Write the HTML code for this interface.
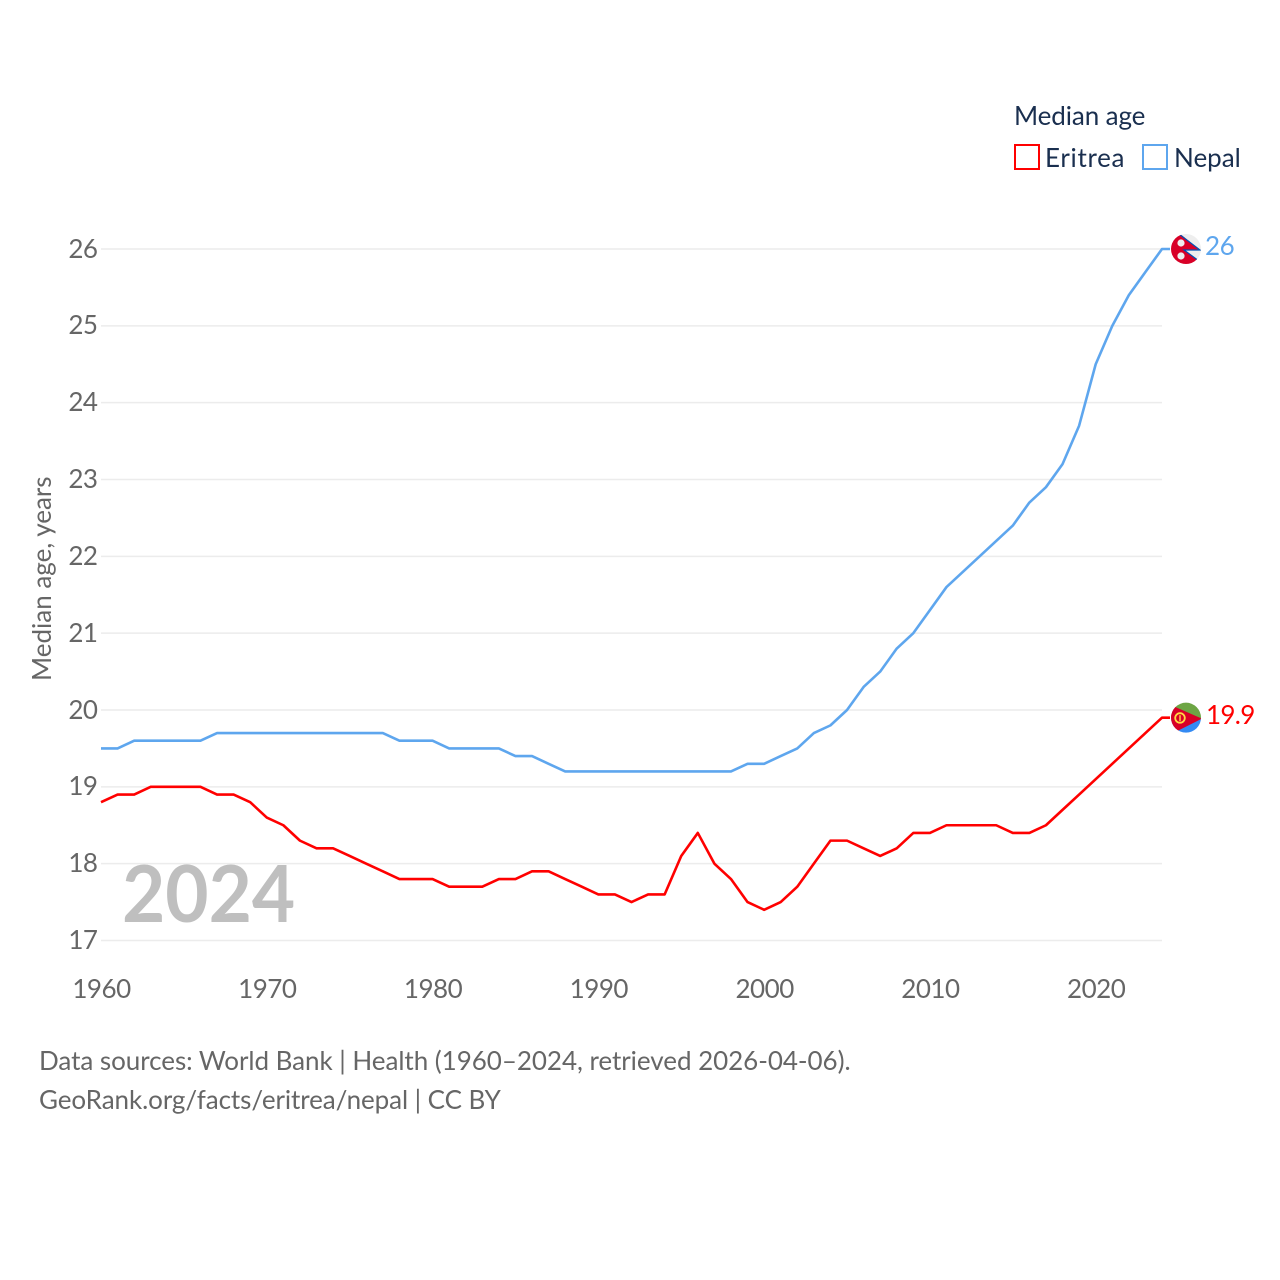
<!DOCTYPE html>
<html lang="en">
<head>
<meta charset="utf-8">
<title>Median age: Eritrea and Nepal</title>
<style>
html,body{margin:0;padding:0;background:#fff}
#root{position:relative;width:1280px;height:1280px;overflow:hidden;font-family:"Lato","Carlito","Liberation Sans",sans-serif}
svg{display:block;position:absolute;left:0;top:0}
.t{position:absolute;white-space:nowrap;font-size:26px;line-height:30px;height:30px;color:#666}
.num{letter-spacing:-0.5px}
.navy{color:#1a2f4f}
</style>
</head>
<body>
<div id="root">
<svg xmlns="http://www.w3.org/2000/svg" width="1280" height="1280" viewBox="0 0 1280 1280">
  <rect width="1280" height="1280" fill="#fff"/>
  <defs>
    <clipPath id="flag-clip-np"><circle cx="0" cy="0" r="15"/></clipPath>
    <clipPath id="flag-clip-er"><circle cx="0" cy="0" r="15"/></clipPath>
  </defs>
  <g id="grid"></g>
  <g id="lines"></g>
  <g>
    <rect x="1015" y="145" width="24" height="24" fill="#fff" stroke="#ff0000" stroke-width="2"/>
    <rect x="1143" y="145" width="24" height="24" fill="#fff" stroke="#5ea6ee" stroke-width="2"/>
  </g>
  <g id="flag-nepal">
    <g clip-path="url(#flag-clip-np)">
      <rect x="-16" y="-16" width="32" height="32" fill="#eeeeee"/>
      <path d="M-16,-16 L-7,-16 L14,1 L-2,1 L13,12 L13,16 L-16,16 Z" fill="#d80027"/>
      <path d="M-7,-15 L14,1 L-2,1 L13,12" fill="none" stroke="#0052b4" stroke-width="1.2"/>
      <circle cx="-5" cy="-6" r="3.6" fill="#eeeeee"/>
      <circle cx="-5" cy="7" r="3.6" fill="#eeeeee"/>
    </g>
  </g>
  <g id="flag-eritrea">
    <g clip-path="url(#flag-clip-er)">
      <rect x="-16" y="-16" width="32" height="17" fill="#6da544"/>
      <rect x="-16" y="1" width="32" height="16" fill="#338af3"/>
      <path d="M-16,-13 L16,1 L-16,17 Z" fill="#d80027"/>
      <circle cx="-6" cy="0.3" r="4.8" fill="none" stroke="#ffda44" stroke-width="1.8"/>
      <rect x="-6.7" y="-2.5" width="1.4" height="6" fill="#ffda44"/>
    </g>
  </g>
</svg>
<div class="t" style="left:-59px;top:564px;width:200px;text-align:center;transform:translateY(2px) rotate(-90deg)">Median age, years</div>
<div class="t" style="left:122px;top:852px;font-size:79px;line-height:79px;height:79px;font-weight:700;color:#bfbfbf;transform-origin:0 0;transform:scaleX(0.945)">2024</div>
<div class="t navy" style="left:1014px;top:100px;letter-spacing:-0.1px">Median age</div>
<div class="t navy" style="left:1045px;top:142px;letter-spacing:0.7px">Eritrea</div>
<div class="t navy" style="left:1174px;top:142px">Nepal</div>
<div class="t" id="end-nepal" style="left:1205px;color:#5ea6ee;letter-spacing:-0.4px"></div>
<div class="t" id="end-eritrea" style="left:1206px;color:#ff0000;letter-spacing:-0.7px"></div>
<div class="t" style="left:39px;top:1045px;letter-spacing:-0.044px">Data sources: World Bank | Health (1960–2024, retrieved 2026-04-06).</div>
<div class="t" style="left:39px;top:1084px;letter-spacing:-0.077px">GeoRank.org/facts/eritrea/nepal | CC BY</div>
</div>
<script>
const startYear = 1960;
const yTickValues = [17, 18, 19, 20, 21, 22, 23, 24, 25, 26];
const xTickValues = [1960, 1970, 1980, 1990, 2000, 2010, 2020];
const eritreaValues = [18.8,18.9,18.9,19,19,19,19,18.9,18.9,18.8,18.6,18.5,18.3,18.2,18.2,18.1,18,17.9,17.8,17.8,17.8,17.7,17.7,17.7,17.8,17.8,17.9,17.9,17.8,17.7,17.6,17.6,17.5,17.6,17.6,18.1,18.4,18,17.8,17.5,17.4,17.5,17.7,18,18.3,18.3,18.2,18.1,18.2,18.4,18.4,18.5,18.5,18.5,18.5,18.4,18.4,18.5,18.7,18.9,19.1,19.3,19.5,19.7,19.9];
const nepalValues = [19.5,19.5,19.6,19.6,19.6,19.6,19.6,19.7,19.7,19.7,19.7,19.7,19.7,19.7,19.7,19.7,19.7,19.7,19.6,19.6,19.6,19.5,19.5,19.5,19.5,19.4,19.4,19.3,19.2,19.2,19.2,19.2,19.2,19.2,19.2,19.2,19.2,19.2,19.2,19.3,19.3,19.4,19.5,19.7,19.8,20,20.3,20.5,20.8,21,21.3,21.6,21.8,22,22.2,22.4,22.7,22.9,23.2,23.7,24.5,25,25.4,25.7,26];

const NS = 'http://www.w3.org/2000/svg';
const xScale = function (year) { return 101 + (year - 1960) * (1162 - 101) / 64; };
const yScale = function (value) { return 940.5 - (value - 17) * (940.5 - 249) / 9; };
const root = document.getElementById('root');
const gridG = document.getElementById('grid');
const linesG = document.getElementById('lines');

yTickValues.forEach(function (v) {
  const line = document.createElementNS(NS, 'line');
  
  
  line.setAttribute('x1', 101);
  line.setAttribute('x2', 1162);
  line.setAttribute('y1', yScale(v));
  line.setAttribute('y2', yScale(v));
  line.setAttribute('stroke', '#ececec');
  line.setAttribute('stroke-width', '1.5');
  gridG.appendChild(line);
  const label = document.createElement('div');
  
  
  label.className = 't num';
  label.style.left = '47.5px';
  label.style.width = '50px';
  label.style.textAlign = 'right';
  label.style.top = (yScale(v) - 16.4) + 'px';
  label.textContent = String(v);
  root.appendChild(label);
});

xTickValues.forEach(function (y) {
  const label = document.createElement('div');
  
  
  label.className = 't num';
  label.style.left = (xScale(y) + 0.5 - 50) + 'px';
  label.style.width = '100px';
  label.style.textAlign = 'center';
  label.style.top = '973px';
  label.textContent = String(y);
  root.appendChild(label);
});

function drawSeries(values, color, name) {
  const pts = values.map(function (v, i) {
    return xScale(startYear + i).toFixed(2) + ',' + yScale(v).toFixed(2);
  });
  const lastY = yScale(values[values.length - 1]).toFixed(2);
  pts.push('1170,' + lastY);
  const path = document.createElementNS(NS, 'polyline');
  
  
  path.setAttribute('points', pts.join(' '));
  path.setAttribute('fill', 'none');
  path.setAttribute('stroke', color);
  path.setAttribute('stroke-width', '2.6');
  path.setAttribute('stroke-linejoin', 'round');
  linesG.appendChild(path);
}
drawSeries(eritreaValues, '#ff0000', 'eritrea-line');
drawSeries(nepalValues, '#5ea6ee', 'nepal-line');

const nepalLast = nepalValues[nepalValues.length - 1];
const eritreaLast = eritreaValues[eritreaValues.length - 1];
document.getElementById('flag-nepal').setAttribute('transform', 'translate(1186,' + yScale(nepalLast) + ')');
document.getElementById('flag-eritrea').setAttribute('transform', 'translate(1186,' + yScale(eritreaLast) + ')');
const endNepal = document.getElementById('end-nepal');
endNepal.textContent = String(nepalLast);
endNepal.style.top = (yScale(nepalLast) - 19) + 'px';
const endEritrea = document.getElementById('end-eritrea');
endEritrea.textContent = String(eritreaLast);
endEritrea.style.top = (yScale(eritreaLast) - 19) + 'px';
</script>
</body>
</html>
